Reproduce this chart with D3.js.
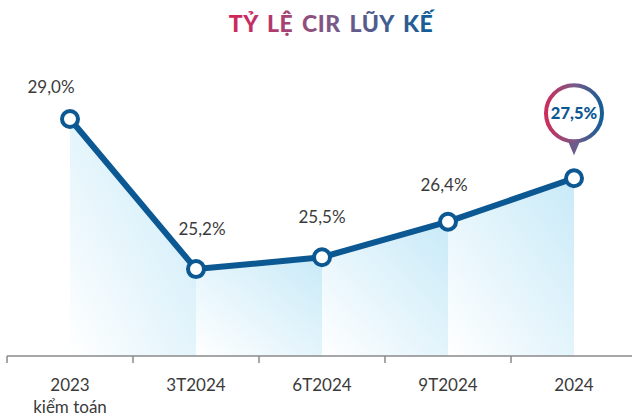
<!DOCTYPE html>
<html>
<head>
<meta charset="utf-8">
<title>Tỷ lệ CIR lũy kế</title>
<script src="https://cdn.jsdelivr.net/npm/d3@7/dist/d3.min.js"></script>
<style>
  body { margin: 0; background: #fff; font-family: "Lato", "Open Sans", sans-serif; }
  svg text { font-family: "Lato", "Open Sans", sans-serif; }
</style>
</head>
<body>
<div id="chart"></div>
<script>
// data
var periods = ["2023", "3T2024", "6T2024", "9T2024", "2024"];
var subLabels = ["kiểm toán", "", "", "", ""];
var cir = [29.0, 25.2, 25.5, 26.4, 27.5];
var valueLabels = ["29,0%", "25,2%", "25,5%", "26,4%", "27,5%"];
var title = "TỶ LỆ CIR LŨY KẾ";

var width = 632, height = 420;
var lineColor = "#0c5892";

var svg = d3.select("#chart").append("svg")
  .attr("width", width)
  .attr("height", height);

var defs = svg.append("defs");

// area gradient: white bottom-left -> light blue top-right
var ag = defs.append("linearGradient")
  .attr("id", "areaGrad")
  .attr("x1", 0).attr("y1", 1).attr("x2", 1).attr("y2", 0);
ag.append("stop").attr("offset", "0%").attr("stop-color", "#ffffff");
ag.append("stop").attr("offset", "100%").attr("stop-color", "#c8eaf8");

// title gradient
var tg = defs.append("linearGradient")
  .attr("id", "titleGrad")
  .attr("gradientUnits", "userSpaceOnUse")
  .attr("x1", 230).attr("y1", 0).attr("x2", 432).attr("y2", 0);
tg.append("stop").attr("offset", "0%").attr("stop-color", "#d4245a");
tg.append("stop").attr("offset", "50%").attr("stop-color", "#7d5a86");
tg.append("stop").attr("offset", "100%").attr("stop-color", "#135d96");

// bubble ring gradient
var bg = defs.append("linearGradient")
  .attr("id", "ringGrad")
  .attr("x1", 0).attr("y1", 0).attr("x2", 1).attr("y2", 0);
bg.append("stop").attr("offset", "0%").attr("stop-color", "#cc2d5c");
bg.append("stop").attr("offset", "50%").attr("stop-color", "#7b5987");
bg.append("stop").attr("offset", "100%").attr("stop-color", "#145e96");

var x = d3.scaleBand().domain(periods).range([7, 637]).padding(0);
var y = d3.scaleLinear().domain([23, 29]).range([356, 119]);
var cx = function(p) { return x(p) + x.bandwidth() / 2; };

var pts = periods.map(function(p, i) { return {p: p, v: cir[i], label: valueLabels[i], sub: subLabels[i]}; });

// title
svg.append("text")
  .attr("x", 331).attr("y", 32)
  .attr("text-anchor", "middle")
  .attr("font-size", 23)
  .attr("font-weight", 900)
  .attr("fill", "url(#titleGrad)")
  .style("letter-spacing", "0.5px")
  .style("word-spacing", "3px")
  .text(title);

// area segments, one per pair of points
var segs = d3.pairs(pts);
svg.selectAll(".seg").data(segs).enter().append("path")
  .attr("class", "seg")
  .attr("fill", "url(#areaGrad)")
  .attr("d", function(s) {
    return d3.area()
      .x(function(d) { return cx(d.p); })
      .y0(y(23))
      .y1(function(d) { return y(d.v); })(s);
  });

// axis
var axis = svg.append("g");
axis.append("line")
  .attr("x1", x.range()[0]).attr("x2", width)
  .attr("y1", y(23)).attr("y2", y(23))
  .attr("stroke", "#8a8a8a").attr("stroke-width", 1.5);
axis.selectAll(".tk").data(periods).enter().append("line")
  .attr("x1", function(d) { return x(d); }).attr("x2", function(d) { return x(d); })
  .attr("y1", y(23)).attr("y2", y(23) + 7)
  .attr("stroke", "#8a8a8a").attr("stroke-width", 1.5);

axis.selectAll(".lab").data(pts).enter().append("text")
  .attr("x", function(d) { return cx(d.p); })
  .attr("y", 391)
  .attr("text-anchor", "middle")
  .attr("font-size", 17)
  .attr("fill", "#3b3b3b")
  .text(function(d) { return d.p; });
axis.selectAll(".sub").data(pts.filter(function(d) { return d.sub; })).enter().append("text")
  .attr("x", function(d) { return cx(d.p); })
  .attr("y", 413)
  .attr("text-anchor", "middle")
  .attr("font-size", 17)
  .attr("fill", "#3b3b3b")
  .text(function(d) { return d.sub; });

// line
svg.append("path")
  .datum(pts)
  .attr("fill", "none")
  .attr("stroke", lineColor)
  .attr("stroke-width", 6)
  .attr("stroke-linejoin", "round")
  .attr("d", d3.line().x(function(d) { return cx(d.p); }).y(function(d) { return y(d.v); }));

svg.selectAll(".dot").data(pts).enter().append("circle")
  .attr("cx", function(d) { return cx(d.p); })
  .attr("cy", function(d) { return y(d.v); })
  .attr("r", 8)
  .attr("fill", "#fff")
  .attr("stroke", lineColor)
  .attr("stroke-width", 4);

// value labels (not the last one, it gets a bubble)
var labOffsetX = [-19, 6, 0, -4];
var labOffsetY = [-26, -34, -34, -31];
svg.selectAll(".val").data(pts.slice(0, 4)).enter().append("text")
  .attr("x", function(d, i) { return cx(d.p) + labOffsetX[i]; })
  .attr("y", function(d, i) { return y(d.v) + labOffsetY[i]; })
  .attr("text-anchor", "middle")
  .attr("font-size", 17)
  .attr("fill", "#3b3b3b")
  .text(function(d) { return d.label; });

// bubble for last point
var last = pts[pts.length - 1];
var bx = cx(last.p), by = y(last.v) - 65;
var bub = svg.append("g");
bub.append("path")
  .attr("d", "M" + (bx - 6) + "," + (by + 28) + "L" + bx + "," + (by + 42) + "L" + (bx + 6) + "," + (by + 28) + "Z")
  .attr("fill", "#6c5c8c");
bub.append("circle")
  .attr("cx", bx).attr("cy", by).attr("r", 28)
  .attr("fill", "#fff")
  .attr("stroke", "url(#ringGrad)")
  .attr("stroke-width", 4);
bub.append("text")
  .attr("x", bx).attr("y", by + 6)
  .attr("text-anchor", "middle")
  .attr("font-size", 16.5)
  .attr("font-weight", 900)
  .attr("fill", "#0c5892")
  .text(last.label);
</script>
</body>
</html>
